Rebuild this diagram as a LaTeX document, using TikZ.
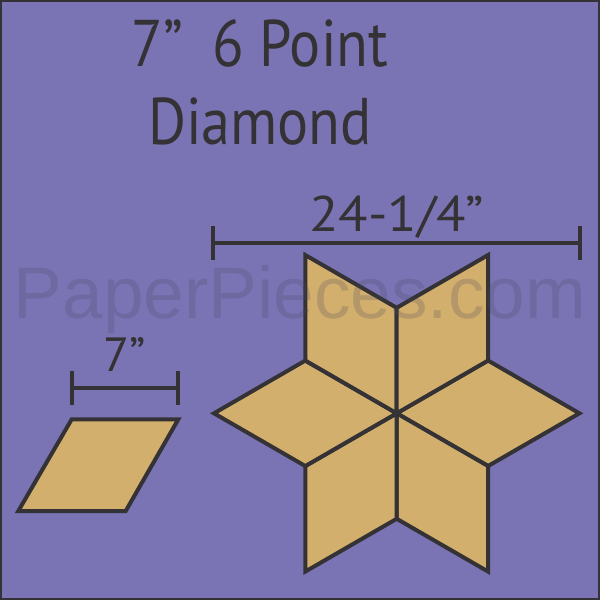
\documentclass[tikz,border=0pt]{standalone}
\usepackage{fontspec}
\usepackage{graphicx}
\setmainfont{PT Sans}
\newfontfamily\markfont{Liberation Sans}
\usetikzlibrary{calc}
\definecolor{quiltbg}{RGB}{122,116,180}
\definecolor{fabric}{RGB}{210,175,109}
\definecolor{ink}{RGB}{52,50,52}
\definecolor{markgray}{RGB}{70,70,90}
\tikzset{piece/.style={fill=fabric,draw=ink,line width=4pt,line join=miter},
  dimline/.style={draw=ink,line width=4pt},
  label text/.style={text=ink,inner sep=0pt,anchor=base}}

\begin{document}
\begin{tikzpicture}[x=1pt,y=-1pt]
\fill[quiltbg] (0,0) rectangle (600,600);
\draw[ink,line width=2pt] (1,1) rectangle (599,599);

% title
\node[label text,font=\fontsize{66}{66}\selectfont] (title1) at (260,66.7) {\scalebox{0.88}[1]{7”\hspace{0.5em}6 Point}};
\node[label text,font=\fontsize{66}{66}\selectfont] (title2) at (260,144) {\scalebox{0.88}[1]{Diamond}};

% star of six pieces
\coordinate (ctr) at (396.7,413.3);
\def\side{105.5}
\foreach \t in {0,60,...,300}
  {
    \draw[piece] (ctr) -- ($(ctr)+(\t-30:\side)$) -- ($(ctr)+(\t:1.732*\side)$)
      -- ($(ctr)+(\t+30:\side)$) -- cycle;
  }

% single piece
\draw[piece] (71.7,419.3) -- (178.3,419.3) -- (125.7,511) -- (18.3,511) -- cycle;

% watermark
\node[inner sep=0pt,anchor=base,text=markgray,text opacity=0.22,
  font=\markfont\fontsize{73}{73}\selectfont] (mark) at (300,318.3) {PaperPieces.com};

% dimensions
\coordinate (bigL) at (213.3,243.3);
\coordinate (bigR) at (580,243.3);
\draw[dimline] (bigL) -- (bigR);
\draw[dimline] ($(bigL)+(0,-17)$) -- ($(bigL)+(0,17)$);
\draw[dimline] ($(bigR)+(0,-17)$) -- ($(bigR)+(0,17)$);
\node[label text,font=\fontsize{50}{50}\selectfont] (dimbig) at (396.7,231.7) {\scalebox{1.08}[1]{24-1/4”}};

\coordinate (smallL) at (71.7,388.3);
\coordinate (smallR) at (178.3,388.3);
\draw[dimline] (smallL) -- (smallR);
\draw[dimline] ($(smallL)+(0,-17)$) -- ($(smallL)+(0,17)$);
\draw[dimline] ($(smallR)+(0,-17)$) -- ($(smallR)+(0,17)$);
\node[label text,font=\fontsize{48}{48}\selectfont] (dimsmall) at (125,371.7) {7”};
\end{tikzpicture}
\end{document}
